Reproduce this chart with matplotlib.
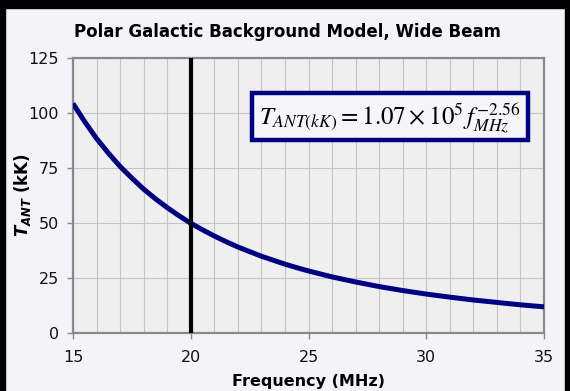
import numpy as np
import matplotlib
matplotlib.use("Agg")
import matplotlib.pyplot as plt
from matplotlib.patches import Rectangle

# antenna temperature (half-MHz steps where it is steep)
freq_mhz = [15, 15.5, 16, 16.5, 17, 17.5, 18, 18.5, 19, 19.5, 20, 20.5, 21, 21.5,
            22, 22.5, 23, 23.5, 24, 24.5, 25, 26, 27, 28, 29, 30, 31, 32, 33, 34, 35]
t_ant_kk = [104.3, 96.0, 88.4, 81.8, 75.7, 70.4, 65.4, 61.0, 57.0, 53.3, 49.9, 46.9,
            44.1, 41.5, 39.1, 37.0, 34.9, 33.1, 31.3, 29.7, 28.2, 25.5, 23.2, 21.1,
            19.3, 17.7, 16.3, 15.0, 13.9, 12.8, 11.9]
marker_freq = 20
x_ticks = [15, 20, 25, 30, 35]
y_ticks = [0, 25, 50, 75, 100, 125]

title = "Polar Galactic Background Model, Wide Beam"
xlabel = "Frequency (MHz)"
ylabel = r"$T_{ANT}$ (kK)"
equation = r"$T_{ANT(kK)} = 1.07\times10^{5}\,f_{MHz}^{-2.56}$"

plt.rcParams['mathtext.fontset'] = 'custom'
plt.rcParams['mathtext.it'] = 'DejaVu Sans:italic:bold'
plt.rcParams['mathtext.rm'] = 'DejaVu Sans:bold'

fig_bg = '#f4f4f8'
fig = plt.figure(figsize=(5.7, 3.91), dpi=100, facecolor=fig_bg)

# black frame at top, left and right of the picture
fig.patches.append(Rectangle((0, 1 - 8/391), 1, 8/391, transform=fig.transFigure,
                             color='black', zorder=0))
fig.patches.append(Rectangle((0, 0), 5/570, 1, transform=fig.transFigure,
                             color='black', zorder=0))
fig.patches.append(Rectangle((1 - 5/570, 0), 5/570, 1, transform=fig.transFigure,
                             color='black', zorder=0))

ax = fig.add_axes([73/570, 1 - 333/391, (544 - 73)/570, (333 - 58)/391])
ax.set_facecolor('#efefef')

ax.plot(freq_mhz, t_ant_kk, color='#000080', lw=3.6, solid_joinstyle='round',
        solid_capstyle='butt', zorder=3)
ax.axvline(marker_freq, color='black', lw=3.0, zorder=4)

ax.set_xlim(15, 35)
ax.set_ylim(0, 125)
ax.set_xticks(x_ticks)
ax.set_xticks(np.arange(15, 36, 1), minor=True)
ax.set_yticks(y_ticks)
ax.grid(which='both', axis='x', color='#c4c4c4', lw=0.8)
ax.grid(which='major', axis='y', color='#c4c4c4', lw=0.8)
ax.set_axisbelow(True)

for s in ax.spines.values():
    s.set_color('#8a8a8a')
    s.set_linewidth(1.6)
ax.tick_params(which='major', length=4, width=1, color='#8a8a8a',
               labelsize=11.5, labelcolor='#111111')
ax.tick_params(axis='x', pad=8)
ax.tick_params(axis='y', pad=6)
ax.tick_params(which='minor', length=0)

fig.text(0.505, 1 - 32/391, title, ha='center', va='center',
         fontsize=12, fontweight='bold')
ax.set_xlabel(xlabel, fontsize=11.5, fontweight='bold', labelpad=7)
ax.set_ylabel(ylabel, fontsize=12, fontweight='bold', va='center')
ax.yaxis.set_label_coords(-0.108, 0.5)

# equation box
bx0, bx1 = (252 - 73)/471, (528 - 73)/471
by0, by1 = (333 - 140)/275, (333 - 93)/275
ax.add_patch(Rectangle((bx0, by0), bx1 - bx0, by1 - by0, transform=ax.transAxes,
                       facecolor='#f6f6fa', edgecolor='#000080', lw=3.2, zorder=5))
ax.text((bx0 + bx1)/2, (by0 + by1)/2 - 0.005, equation, transform=ax.transAxes,
        ha='center', va='center', fontsize=18, math_fontfamily='stix', zorder=6)

fig.savefig('out.png', dpi=100, facecolor=fig_bg)
